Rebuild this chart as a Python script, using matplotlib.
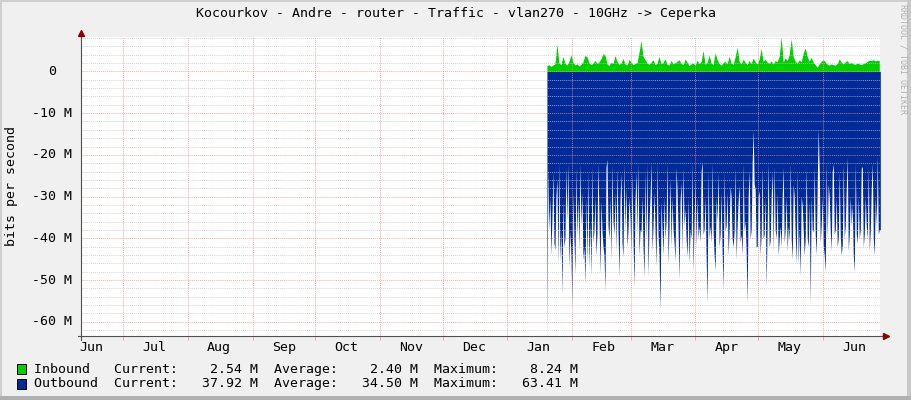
import numpy as np
import matplotlib.pyplot as plt
import matplotlib.dates as mdates
from matplotlib.patches import Rectangle
from matplotlib.ticker import NullFormatter
from matplotlib.transforms import ScaledTranslation

plt.rcParams['font.family'] = ['DejaVu Sans Mono', 'DejaVu Sans']

title = "Kocourkov - Andre - router - Traffic - vlan270 - 10GHz -> Ceperka"
ylabel = "bits per second"
watermark = "RRDTOOL / TOBI OETIKER"

names = ["Inbound", "Outbound"]
current = [2.54, 37.92]
average = [2.40, 34.50]
maximum = [8.24, 63.41]

# Mbit/s, one value per 23 h
inbound = [
    1.4, 1.6, 1.2, 1.5, 1.8, 6.5, 2.0, 1.6, 3.6, 1.9, 1.5, 2.4, 4.0, 2.2, 1.5, 1.8, 1.3, 1.7, 2.3, 3.8,
    3.5, 2.1, 1.6, 2.0, 2.6, 1.9, 2.3, 3.0, 4.3, 3.9, 1.8, 1.4, 2.2, 1.9, 3.8, 2.4, 1.7, 2.0, 3.1, 1.8,
    1.5, 2.9, 2.2, 1.6, 1.9, 2.1, 4.6, 7.4, 3.6, 2.8, 2.0, 1.7, 2.2, 2.8, 1.6, 2.0, 3.6, 1.8, 2.2, 3.0,
    1.7, 1.5, 2.6, 1.8, 2.1, 2.4, 2.8, 1.9, 1.6, 3.0, 2.2, 1.4, 1.8, 2.0, 1.5, 2.7, 1.9, 2.4, 5.0, 1.7,
    2.2, 3.9, 2.0, 1.6, 4.5, 2.8, 1.9, 1.5, 2.1, 2.4, 1.8, 3.6, 2.0, 1.7, 3.5, 5.8, 2.4, 1.8, 2.9, 2.2,
    1.6, 2.6, 1.9, 3.2, 2.3, 1.8, 3.0, 5.5, 2.4, 2.9, 2.2, 2.0, 2.5, 1.8, 2.6, 2.3, 3.6, 8.24, 2.2, 3.2,
    2.6, 4.0, 7.8, 3.5, 2.4, 2.0, 2.8, 2.3, 4.4, 5.6, 3.6, 2.4, 3.4, 2.1, 1.6, 1.0, 1.8, 2.4, 2.8, 2.3,
    1.7, 1.5, 1.8, 1.6, 1.5, 1.9, 3.0, 2.2, 1.8, 2.3, 2.6, 1.9, 2.1, 1.8, 1.7, 2.0, 1.8, 1.6, 1.9, 2.1,
    2.4, 2.7, 2.6, 2.8, 2.5, 2.7, 2.54,
]

# Mbit/s, one value per 11.5 h
outbound = [
    63.41, 22.5, 38, 30, 44, 35, 24, 41, 42.8, 30, 25.8, 46, 22, 45.2, 38, 53.2, 31, 42, 40, 23,
    36, 22, 47, 38, 44, 56.4, 29, 40, 48.4, 23, 39.5, 30, 43, 22.1, 37, 28.9, 45, 42, 50.8, 30,
    46, 24, 47, 36, 49, 22.5, 41, 38, 30, 44, 39, 22, 35, 48.4, 31, 38, 42, 44, 52.4, 23,
    21.1, 37, 40, 30, 45, 22.5, 36, 39, 29, 43, 23, 38, 49.2, 31, 24.3, 41, 44.4, 22, 38, 27.7,
    42, 38, 30, 35, 43.6, 24, 40, 51.6, 31, 24.1, 39, 22, 44, 38, 38.4, 30, 42, 49.2, 24, 40.8,
    22, 49, 36, 30, 21.8, 43, 37, 29, 38, 46.6, 22, 39, 44, 57.2, 31.1, 38, 44, 30, 40, 36,
    22, 46, 37, 25.7, 42, 30, 38, 41, 45.4, 23, 28.5, 38, 49.9, 31, 26.6, 43, 23, 37, 32.9, 40,
    44.4, 30, 46, 38, 40, 22, 48, 36, 25.8, 42, 30, 40, 37, 40.8, 24, 21.7, 39, 38, 30, 44,
    55.4, 24, 40, 37, 41, 22, 38, 44, 47.6, 30, 36, 24.1, 42, 39, 29, 43, 52.4, 24, 38, 37,
    28.9, 44, 38, 27.5, 30, 40, 42, 38, 23, 45, 37, 31, 27.3, 41, 39, 44, 22, 38, 36, 43,
    55.6, 30, 23.7, 40, 38, 22, 14, 27, 28.2, 42, 42, 30, 28.6, 44, 39, 23, 40, 39, 30, 51.6,
    37, 22, 42, 40.5, 30, 24, 43, 22.7, 38, 40, 29, 44, 40.2, 37, 42, 30, 23, 41, 38, 30,
    43, 37, 40.5, 22, 40, 45, 27, 30, 39, 46, 24, 46, 38, 49, 30, 32, 38, 44, 40, 23,
    40, 42, 30.8, 55.5, 30, 38, 38.4, 23, 39, 44, 27, 13.6, 24, 41, 37, 30, 41.6, 44, 48, 22,
    40, 27, 30, 38, 43, 24, 22.1, 39, 38, 30, 42, 40, 24, 39, 44, 41.6, 22, 40, 37, 28,
    20.5, 43, 39, 30, 37, 31.6, 44, 48, 22, 39, 41.2, 30, 40, 38, 23, 22.9, 42, 39, 30, 37,
    40, 23, 43, 38, 28, 22, 40, 44, 30, 37, 20.3, 39, 38, 37.92,
]

data_start = np.datetime64('2023-01-19T22:00')
inbound_step = np.timedelta64(1380, 'm')
outbound_step = np.timedelta64(690, 'm')
view_start = np.datetime64('2022-06-10T22:00')
view_end = np.datetime64('2023-06-28T08:00')
y_bottom, y_top = -63.41, 8.24
major_y = [0, -10, -20, -30, -40, -50, -60]

GREEN = '#00CF00'
BLUE = '#002A97'
BG = '#F0F0F0'
FS = 9.5

x_in = data_start + np.arange(len(inbound)) * inbound_step
x_out = data_start + np.arange(len(outbound)) * outbound_step

fig = plt.figure(figsize=(9.11, 4.0), dpi=100, facecolor=BG)
ax = fig.add_axes([81 / 911, 64 / 400, 799 / 911, 299 / 400])
ax.set_facecolor('white')

ax.fill_between(x_out, 0, -np.array(outbound), color=BLUE, lw=0, zorder=1)
ax.fill_between(x_in, 0, inbound, color=GREEN, lw=0, zorder=1)

ax.set_xlim(view_start, view_end)
ax.set_ylim(y_bottom, y_top)

# grid (drawn over the data, rrdtool style)
ax.set_yticks(major_y)
ax.set_yticks(np.arange(-62, 9, 2), minor=True)
ax.xaxis.set_major_locator(mdates.MonthLocator())
ax.xaxis.set_major_formatter(NullFormatter())
ax.xaxis.set_minor_locator(mdates.MonthLocator(bymonthday=16))
ax.xaxis.set_minor_formatter(mdates.DateFormatter('%b'))
ax.set_axisbelow(False)
ax.grid(which='minor', axis='y', color='#C4C4C4', ls=(0, (1.4, 1.4)), lw=0.5)
ax.grid(which='major', axis='y', color='#F29090', ls=(0, (1.4, 1.4)), lw=0.5)
ax.grid(which='major', axis='x', color='#F29090', ls=(0, (1.4, 1.4)), lw=0.5)

ax.tick_params(axis='x', which='major', length=3, color='#F29A9A', width=0.6)
ax.tick_params(axis='x', which='minor', length=0, pad=3.5, labelsize=FS)
ax.tick_params(axis='y', which='both', length=0, labelleft=False)
for s in ax.spines.values():
    s.set_visible(False)

# y labels, right-aligned in a fixed-width field
ytrans = ax.get_yaxis_transform()
for v in major_y:
    lab = "0" if v == 0 else "%d M" % v
    shift = 25 if v == 0 else 9
    ax.text(0, v, lab, transform=ytrans + ScaledTranslation(-shift / 100, 0, fig.dpi_scale_trans),
            ha='right', va='center', fontsize=FS, color='black')

# axes with arrows
ax.plot([-0.004, 1.006], [0, 0], transform=ax.transAxes, color='#505050', lw=0.8, clip_on=False, zorder=5)
ax.plot([0, 0], [-0.012, 1.01], transform=ax.transAxes, color='#505050', lw=0.8, clip_on=False, zorder=5)
ax.plot([1.008], [0], transform=ax.transAxes, marker='>', color='#8B0000', ms=4, clip_on=False, zorder=6)
ax.plot([0], [1.015], transform=ax.transAxes, marker='^', color='#8B0000', ms=4, clip_on=False, zorder=6)

fig.text(455.5 / 911, 1 - 13 / 400, title, ha='center', va='center', fontsize=FS)
fig.text(12 / 911, 1 - 186 / 400, ylabel, rotation=90, ha='center', va='center', fontsize=FS)
fig.text(903 / 911, 1 - 4 / 400, watermark, rotation=270, ha='center', va='top', fontsize=6, color='#B0B0B0')

# legend
colors = [GREEN, BLUE]
rows_y = [369, 384]
for name, c, cur, avg, mx, ry in zip(names, colors, current, average, maximum, rows_y):
    fig.add_artist(Rectangle((17 / 911, 1 - (ry + 5) / 400), 9 / 911, 10 / 400,
                             transform=fig.transFigure, facecolor=c, edgecolor='black', lw=0.7))
    line = "%-8s  Current:  %6.2f M  Average:  %6.2f M  Maximum:  %6.2f M" % (name, cur, avg, mx)
    fig.text(34 / 911, 1 - ry / 400, line, ha='left', va='center', fontsize=FS)

# canvas frame
fig.add_artist(Rectangle((0, 0), 2 / 911, 1, transform=fig.transFigure, color='#CFCFCF', lw=0))
fig.add_artist(Rectangle((0, 1 - 2 / 400), 1, 2 / 400, transform=fig.transFigure, color='#CFCFCF', lw=0))
fig.add_artist(Rectangle((1 - 4 / 911, 0), 4 / 911, 1, transform=fig.transFigure, color='#C8C8C8', lw=0))
fig.add_artist(Rectangle((0, 0), 1, 4 / 400, transform=fig.transFigure, color='#B0B0B0', lw=0))

fig.savefig('out.png', dpi=100, facecolor=BG)
